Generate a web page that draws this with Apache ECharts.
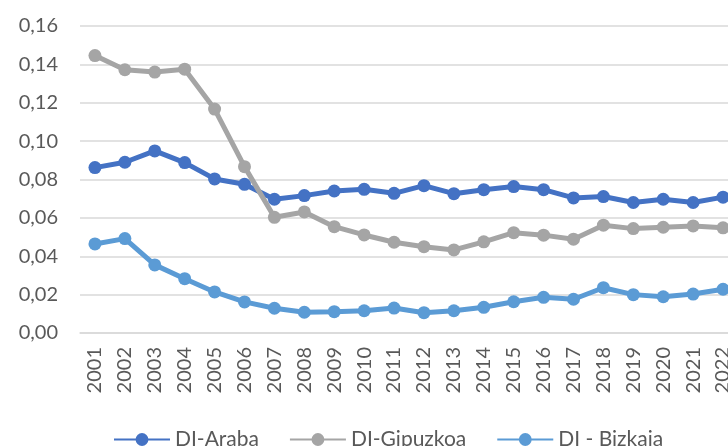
<!DOCTYPE html>
<html>
<head>
<meta charset="utf-8">
<script src="https://cdn.jsdelivr.net/npm/echarts@6/dist/echarts.min.js"></script>
<style>
html,body{margin:0;padding:0;background:#fff;}
#chart{width:728px;height:446px;}
</style>
</head>
<body>
<div id="chart"></div>
<script>
var years = ['2001','2002','2003','2004','2005','2006','2007','2008','2009','2010','2011','2012','2013','2014','2015','2016','2017','2018','2019','2020','2021','2022'];
var araba = [0.0862,0.0890,0.0949,0.0888,0.0803,0.0775,0.0697,0.0716,0.0740,0.0749,0.0728,0.0768,0.0726,0.0747,0.0763,0.0747,0.0704,0.0711,0.0680,0.0697,0.0680,0.0708];
var gipuzkoa = [0.1446,0.1372,0.1360,0.1375,0.1167,0.0867,0.0603,0.0631,0.0554,0.0511,0.0473,0.0450,0.0433,0.0475,0.0523,0.0510,0.0489,0.0562,0.0544,0.0551,0.0558,0.0548];
var bizkaia = [0.0464,0.0492,0.0355,0.0283,0.0214,0.0162,0.0129,0.0108,0.0111,0.0116,0.0130,0.0106,0.0116,0.0134,0.0163,0.0186,0.0176,0.0236,0.0200,0.0189,0.0203,0.0228];
var seriesNames = ['DI-Araba','DI-Gipuzkoa','DI - Bizkaia'];
var colors = ['#4472C4','#A5A5A5','#5B9BD5'];
var font = 'Lato';
var chart = echarts.init(document.getElementById('chart'));
function mk(name, data, color){
  return {
    name: name, type: 'line', data: data,
    symbol: 'circle', symbolSize: 13,
    lineStyle: {width: 5, color: color},
    itemStyle: {color: color},
    animation: false
  };
}
chart.setOption({
  animation: false,
  textStyle: {fontFamily: font},
  grid: {left: 80, width: 658, top: 26, bottom: 113, containLabel: false, outerBoundsMode: 'none'},
  legend: {
    data: seriesNames,
    left: 108, top: 424,
    itemWidth: 56, itemHeight: 16, itemGap: 30,
    textStyle: {color: '#595959', fontSize: 21, fontFamily: font}
  },
  xAxis: {
    type: 'category', data: years, boundaryGap: true,
    axisLine: {show: true, lineStyle: {color: '#D9D9D9', width: 1.5}},
    axisTick: {show: false},
    axisLabel: {rotate: 90, interval: 0, color: '#595959', fontSize: 20, fontFamily: font, margin: 14}
  },
  yAxis: {
    type: 'value', min: 0, max: 0.16, interval: 0.02,
    axisLine: {show: false}, axisTick: {show: false},
    splitLine: {lineStyle: {color: '#D9D9D9', width: 1.5}},
    axisLabel: {color: '#595959', fontSize: 20, fontFamily: font, margin: 22,
      formatter: function(v){ return v.toFixed(2).replace('.', ','); }}
  },
  series: [mk(seriesNames[0], araba, colors[0]), mk(seriesNames[1], gipuzkoa, colors[1]), mk(seriesNames[2], bizkaia, colors[2])]
});
</script>
</body>
</html>
